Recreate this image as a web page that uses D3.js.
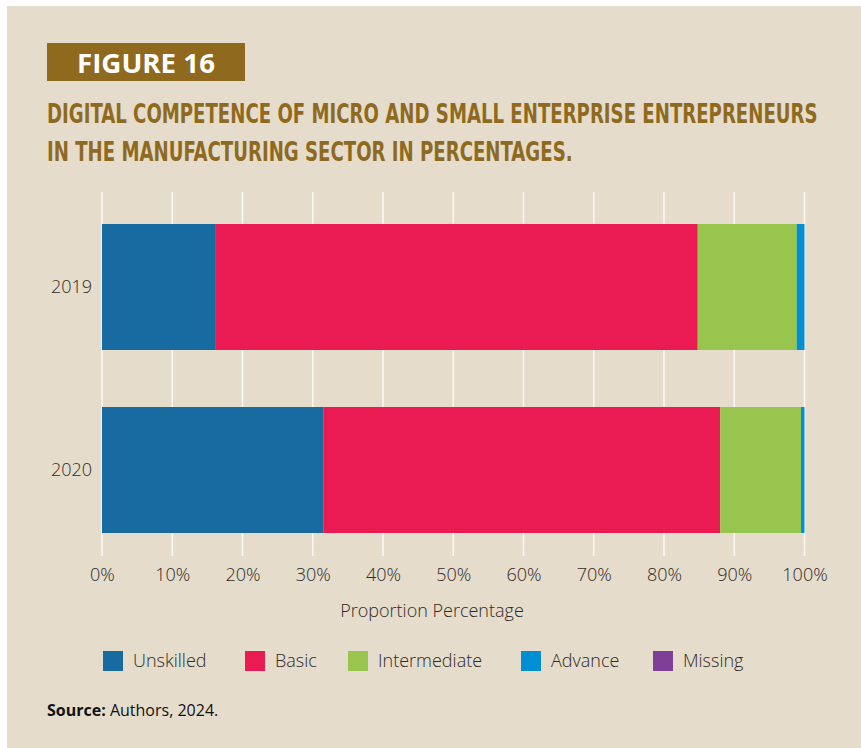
<!DOCTYPE html>
<html>
<head>
<meta charset="utf-8">
<script src="https://cdn.jsdelivr.net/npm/d3@7"></script>
<style>
  html, body { margin: 0; padding: 0; background: #ffffff; }
  svg { display: block; }
</style>
</head>
<body>
<svg id="chart" width="861" height="748"></svg>
<script>
// Survey years and competence levels
const years = ["2019", "2020"];
const levels = ["Unskilled", "Basic", "Intermediate", "Advance", "Missing"];
const levelColors = ["#176ba0", "#ea1a52", "#98c54d", "#008fd5", "#7f3f98"];

// Share of entrepreneurs per level (%), one array per level, ordered by year
const unskilled    = [16.1, 31.5];
const basic        = [68.7, 56.5];
const intermediate = [14.1, 11.5];
const advance      = [1.1, 0.5];
const missing      = [0.0, 0.0];

const xTicks = [0, 10, 20, 30, 40, 50, 60, 70, 80, 90, 100];

const figureLabel = "FIGURE 16";
const titleLines = [
  "DIGITAL COMPETENCE OF MICRO AND SMALL ENTERPRISE ENTREPRENEURS",
  "IN THE MANUFACTURING SECTOR IN PERCENTAGES."
];
const xAxisTitle = "Proportion Percentage";

const rows = years.map((y, i) => ({
  year: y,
  Unskilled: unskilled[i],
  Basic: basic[i],
  Intermediate: intermediate[i],
  Advance: advance[i],
  Missing: missing[i]
}));

const svg = d3.select("#chart");
const font = "'Open Sans', 'Noto Sans', sans-serif";
const textColor = "#2d2b28";
const brown = "#8f6a1e";

// panel background
svg.append("rect").attr("x", 7).attr("y", 6).attr("width", 854).attr("height", 742)
  .attr("fill", "#e5dccb");

// figure badge
svg.append("rect").attr("x", 47).attr("y", 43).attr("width", 198).attr("height", 38)
  .attr("fill", brown);
svg.append("text").attr("x", 77).attr("y", 73)
  .attr("font-family", font).attr("font-weight", 700).attr("font-size", 26)
  .attr("fill", "#ffffff").attr("textLength", 138).attr("lengthAdjust", "spacingAndGlyphs")
  .text(figureLabel);

// title: bold text squeezed horizontally into a condensed look
const titleWidths = [771, 526];
titleLines.forEach((line, i) => {
  const g = svg.append("g");
  const t = g.append("text").attr("x", 0).attr("y", 0)
    .attr("font-family", "'DejaVu Sans Condensed', 'Liberation Sans Narrow', sans-serif")
    .attr("font-weight", 700).attr("font-size", 26)
    .attr("fill", brown)
    .text(line);
  const natural = t.node().getComputedTextLength();
  const sx = titleWidths[i] / natural;
  g.attr("transform", `translate(47, ${123 + i * 37.5}) scale(${sx}, 1)`);
});

// scales
const x = d3.scaleLinear().domain([0, 100]).range([102, 804.5]);
const y = d3.scaleBand().domain(years).range([224, 533]).paddingInner(0.3115).paddingOuter(0);
const color = d3.scaleOrdinal().domain(levels).range(levelColors);

const gridTop = 192, gridBottom = 556;

// vertical gridlines extending below the plot as ticks
svg.append("g").selectAll("line").data(xTicks).join("line")
  .attr("x1", d => x(d)).attr("x2", d => x(d))
  .attr("y1", gridTop).attr("y2", gridBottom)
  .attr("stroke", "#fbf8f2").attr("stroke-width", 1.6);

// stacked bars
const stacked = d3.stack().keys(levels)(rows);
svg.append("g").selectAll("g").data(stacked).join("g")
  .attr("fill", d => color(d.key))
  .selectAll("rect").data(d => d).join("rect")
  .attr("x", d => x(d[0]))
  .attr("y", d => y(d.data.year))
  .attr("width", d => Math.max(0, x(d[1]) - x(d[0])))
  .attr("height", y.bandwidth());

// x axis labels
const xAxis = d3.axisBottom(x).tickValues(xTicks).tickFormat(d => d + "%").tickSize(0).tickPadding(0);
const gx = svg.append("g").attr("transform", `translate(0, 567)`).call(xAxis);
gx.select(".domain").remove();
gx.selectAll("text")
  .attr("font-family", font).attr("font-size", 18).attr("font-weight", 300)
  .attr("fill", textColor).attr("dy", "0.76em");

// y axis labels
const yAxis = d3.axisLeft(y).tickSize(0).tickPadding(0);
const gy = svg.append("g").attr("transform", `translate(92, 0)`).call(yAxis);
gy.select(".domain").remove();
gy.selectAll("text")
  .attr("font-family", font).attr("font-size", 18).attr("font-weight", 300)
  .attr("fill", textColor);

// axis title
svg.append("text").attr("x", 432).attr("y", 617).attr("text-anchor", "middle")
  .attr("font-family", font).attr("font-size", 18).attr("font-weight", 300)
  .attr("fill", textColor).text(xAxisTitle);

// legend
const legendX = [103, 245, 348, 521, 653];
const legend = svg.append("g").selectAll("g").data(levels).join("g")
  .attr("transform", (d, i) => `translate(${legendX[i]}, 651)`);
legend.append("rect").attr("width", 20).attr("height", 20).attr("fill", d => color(d));
legend.append("text").attr("x", 30).attr("y", 16)
  .attr("font-family", font).attr("font-size", 18).attr("font-weight", 300)
  .attr("fill", textColor).text(d => d);

// source note
const src = svg.append("text").attr("x", 47).attr("y", 716)
  .attr("font-family", font).attr("font-size", 16).attr("fill", "#111");
src.append("tspan").attr("font-weight", 700).text("Source:");
src.append("tspan").text(" Authors, 2024.");
</script>
</body>
</html>
